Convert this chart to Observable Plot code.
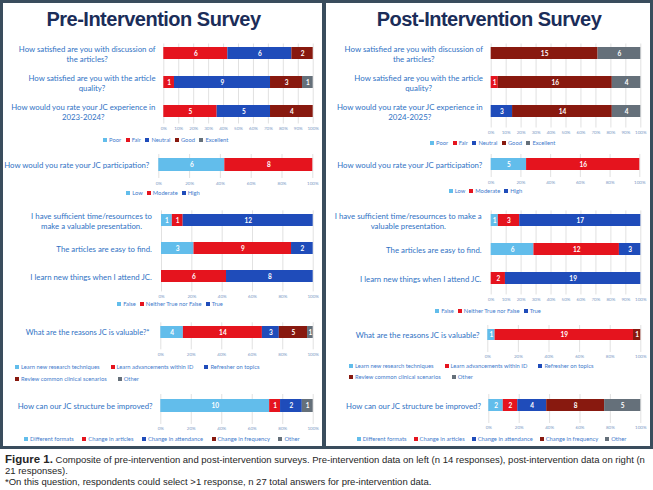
<!DOCTYPE html>
<html>
<head>
<meta charset="utf-8">
<script src="https://cdn.jsdelivr.net/npm/d3@7"></script>
<script src="https://cdn.jsdelivr.net/npm/@observablehq/plot@0.6"></script>
<style>
  body { margin: 0; background: #fff; }
  #fig { position: relative; width: 653px; height: 490px; overflow: hidden; font-family: Lato, sans-serif; }
  .frame { position: absolute; left: 0; top: 0; width: 653px; height: 449px; background: #3a4d5d; }
  .panel { position: absolute; top: 3px; height: 443px; background: #fff; }
  .title { position: absolute; top: 9px; width: 320px; text-align: center; font-family: "Liberation Sans", Arial, sans-serif;
           font-weight: bold; font-size: 20px; line-height: 20px; letter-spacing: -0.5px; color: #1b2d59; white-space: nowrap; }
  .chart { position: absolute; }
  .chart svg { display: block; }
  .legend-box { position: absolute; }
  .lg-swatches { font-family: Lato, sans-serif; font-size: 5.8px; color: #3f7bcc; min-height: 0; margin: 0; display: flex; flex-wrap: wrap; align-items: center; }
  .lg-swatch { height: 8px; line-height: 8px; display: inline-flex; align-items: center; }
  .lg-swatch > svg { margin-right: 2px; }
  .caption { position: absolute; left: 5px; top: 454px; font-family: "Liberation Sans", Arial, sans-serif; font-size: 9.5px;
             line-height: 11.2px; letter-spacing: 0; color: #262626; white-space: nowrap; }
  .caption b { font-size: 11.5px; }
</style>
</head>
<body>
<div id="fig">
  <div class="frame"></div>
  <div class="panel" style="left:3px;width:319px"></div>
  <div class="panel" style="left:326px;width:324px"></div>
  <div class="title" style="left:-6.5px">Pre-Intervention Survey</div>
  <div class="title" style="left:329px">Post-Intervention Survey</div>
  <div class="caption"><b>Figure 1.</b> Composite of pre-intervention and post-intervention surveys. Pre-intervention data on left (n 14 responses), post-intervention data on right (n<br>21 responses).<br>*On this question, respondents could select &gt;1 response, n 27 total answers for pre-intervention data.</div>
</div>
<script>
// ---- answer categories ----
const ratingLevels = ["Poor", "Fair", "Neutral", "Good", "Excellent"];
const participationLevels = ["Low", "Moderate", "High"];
const truthLevels = ["False", "Neither True nor False", "True"];
const reasonLevels = ["Learn new research techniques", "Learn advancements within ID", "Refresher on topics", "Review common clinical scenarios", "Other"];
const improveLevels = ["Different formats", "Change in articles", "Change in attendance", "Change in frequency", "Other"];

// ---- questions ----
const ratingQuestionsPre = [
  "How satisfied are you with discussion of\nthe articles?",
  "How satisfied are you with the article\nquality?",
  "How would you rate your JC experience in\n2023-2024?"
];
const ratingQuestionsPost = [
  "How satisfied are you with discussion of\nthe articles?",
  "How satisfied are you with the article\nquality?",
  "How would you rate your JC experience in\n2024-2025?"
];
const participationQuestion = ["How would you rate your JC participation?"];
const truthQuestionsPre = [
  "I have sufficient time/resournces to\nmake a valuable presentation.",
  "The articles are easy to find.",
  "I learn new things when I attend JC."
];
const truthQuestionsPost = [
  "I have sufficient time/resournces to make a\nvaluable presentation.",
  "The articles are easy to find.",
  "I learn new things when I attend JC."
];
const reasonQuestionPre = ["What are the reasons JC is valuable?*"];
const reasonQuestionPost = ["What are the reasons JC is valuable?"];
const improveQuestion = ["How can our JC structure be improved?"];

// ---- response counts (one row per question, one column per answer) ----
const ratingPre = [[0, 6, 6, 2, 0], [0, 1, 9, 3, 1], [0, 5, 5, 4, 0]];
const ratingPost = [[0, 0, 0, 15, 6], [0, 1, 0, 16, 4], [0, 0, 3, 14, 4]];
const participationPre = [[6, 8, 0]];
const participationPost = [[5, 16, 0]];
const truthPre = [[1, 1, 12], [3, 9, 2], [0, 6, 8]];
const truthPost = [[1, 3, 17], [6, 12, 3], [0, 2, 19]];
const reasonPre = [[4, 14, 3, 5, 1]];
const reasonPost = [[1, 19, 0, 1, 0]];
const improvePre = [[10, 1, 2, 0, 1]];
const improvePost = [[2, 2, 4, 8, 5]];

// ---- styling ----
const PALETTE = ["#62bdeb", "#e5141e", "#1f4cba", "#88190f", "#65707a"];
const LABEL_COLOR = "#2f72c4";
const TICK_COLOR = "#7d9bc6";

// ---- layout of each block within the two panels ----
const panels = {
  pre: {left: 3, right: 322},
  post: {left: 326, right: 650}
};
const blocks = [
  {panel: "pre", questions: ratingQuestionsPre, levels: ratingLevels, values: ratingPre,
   bar: [163.3, 312.7], top: 37.5, step: 29, barH: 11.7, gridTop: 43, gridBottom: 123, tickY: 127.7, tickStep: 0.1,
   labelSize: 7.8, lineHeight: 1.28, gap: 8, legend: {center: 168, y: 140, gap: 4.5}},
  {panel: "post", questions: ratingQuestionsPost, levels: ratingLevels, values: ratingPost,
   bar: [490.7, 640.3], top: 37.5, step: 29, barH: 11.5, gridTop: 43, gridBottom: 127, tickY: 131.7, tickStep: 0.1,
   labelSize: 7.9, lineHeight: 1.25, gap: 8, legend: {center: 495, y: 142.5, gap: 4.5}},
  {panel: "pre", questions: participationQuestion, levels: participationLevels, values: participationPre,
   bar: [158.3, 312.3], top: 155, step: 20, barH: 13.3, gridTop: 154, gridBottom: 178, tickY: 183.3, tickStep: 0.2,
   labelSize: 7.8, gap: 9, legend: {center: 165, y: 193.3, gap: 4}},
  {panel: "post", questions: participationQuestion, levels: participationLevels, values: participationPost,
   bar: [490.7, 639.3], top: 154.3, step: 20, barH: 12.3, gridTop: 154, gridBottom: 177, tickY: 182.3, tickStep: 0.2,
   labelSize: 7.8, gap: 8.4, legend: {center: 487.5, y: 190.7, gap: 4}},
  {panel: "pre", questions: truthQuestionsPre, levels: truthLevels, values: truthPre,
   bar: [161, 312.7], top: 204.6, step: 28.85, barH: 12.3, gridTop: 210, gridBottom: 291, tickY: 295.7, tickStep: 0.2,
   labelSize: 7.8, lineHeight: 1.3, gap: 9.5, legend: {center: 172, y: 304, gap: 4}},
  {panel: "post", questions: truthQuestionsPost, levels: truthLevels, values: truthPost,
   bar: [490.7, 640.3], top: 204.55, step: 29.5, barH: 12, gridTop: 210, gridBottom: 294, tickY: 299, tickStep: 0.1,
   labelSize: 7.8, lineHeight: 1.3, gap: 9.5, legend: {center: 490, y: 310.7, gap: 4}},
  {panel: "pre", questions: reasonQuestionPre, levels: reasonLevels, values: reasonPre,
   bar: [160.3, 312.7], top: 321.7, step: 20, barH: 11.7, gridTop: 322, gridBottom: 349, tickY: 354, tickStep: 0.2,
   labelSize: 7.6, gap: 11, legend: {left: 15, width: 262, y: 367.3, rowGap: 11.7, gap: 11}},
  {panel: "post", questions: reasonQuestionPost, levels: reasonLevels, values: reasonPost,
   bar: [487.3, 640.3], top: 324, step: 20, barH: 11, gridTop: 325, gridBottom: 352, tickY: 356.7, tickStep: 0.2,
   labelSize: 7.8, gap: 8, legend: {left: 349, width: 256, y: 366, rowGap: 10.7, gap: 11}},
  {panel: "pre", questions: improveQuestion, levels: improveLevels, values: improvePre,
   bar: [160.3, 312.7], top: 395, step: 20, barH: 12.7, gridTop: 394, gridBottom: 424, tickY: 429, tickStep: 0.2,
   labelSize: 7.8, gap: 8, legend: {center: 166, y: 439, gap: 8.5}},
  {panel: "post", questions: improveQuestion, levels: improveLevels, values: improvePost,
   bar: [488.3, 640.3], top: 395, step: 20, barH: 12, gridTop: 394, gridBottom: 423, tickY: 427.7, tickStep: 0.2,
   labelSize: 7.8, gap: 7.6, legend: {center: 495, y: 439, gap: 7}}
];

const fig = document.getElementById("fig");
const ctx = document.createElement("canvas").getContext("2d");
function textWidth(s, size) {
  ctx.font = `${size}px Lato`;
  return ctx.measureText(s).width;
}

function drawBlock(b) {
  const panel = panels[b.panel];
  const rows = [];
  b.questions.forEach((q, i) => b.levels.forEach((lv, j) => {
    const v = b.values[i][j];
    if (v > 0) rows.push({question: q, answer: lv, count: v});
  }));
  const n = b.questions.length;
  const svgTop = Math.min(b.gridTop, b.top) - 2;
  const height = Math.ceil(b.tickY + 5 - svgTop);
  const width = panel.right - panel.left;
  const pad = 1 - b.barH / b.step;
  const yTop = b.top - svgTop;
  const ticks = d3.range(0, 1 + 1e-9, b.tickStep);
  const gridBottom = b.gridBottom - svgTop;

  // question text: block right-aligned against the bars, lines centred within it
  const labels = b.questions.map(q => {
    const w = d3.max(q.split("\n"), s => textWidth(s, b.labelSize));
    return Plot.text([q], {
      y: d => d, text: d => d, frameAnchor: "left", textAnchor: "middle",
      dx: -b.gap - w / 2, fontSize: b.labelSize, lineHeight: b.lineHeight ?? 1.2, fill: LABEL_COLOR
    });
  });

  const chart = Plot.plot({
    width, height,
    marginLeft: b.bar[0] - panel.left,
    marginRight: panel.right - b.bar[1],
    marginTop: b.gridTop - svgTop,
    marginBottom: height - gridBottom,
    style: {fontFamily: "Lato, sans-serif", background: "transparent", overflow: "visible"},
    x: {domain: [0, 1]},
    y: {domain: b.questions, range: [yTop, yTop + n * b.step], paddingInner: pad, paddingOuter: pad / 2, axis: null},
    color: {domain: b.levels, range: PALETTE},
    marks: [
      Plot.gridX(ticks, {stroke: "#d9d9d9", strokeOpacity: 1, strokeWidth: 0.8}),
      Plot.axisX(ticks, {
        tickSize: 0, tickPadding: b.tickY - b.gridBottom - 2.3, tickFormat: d3.format(".0%"),
        fontSize: 4.5, fill: TICK_COLOR, label: null
      }),
      Plot.barX(rows, Plot.stackX({x: "count", y: "question", fill: "answer", offset: "normalize", order: b.levels})),
      Plot.text(rows, Plot.stackX({
        x: "count", y: "question", z: "answer", text: "count", offset: "normalize", order: b.levels,
        fill: "white", fontSize: 6.5, fontWeight: "bold"
      })),
      ...labels
    ]
  });
  const holder = document.createElement("div");
  holder.className = "chart";
  holder.style.left = panel.left + "px";
  holder.style.top = svgTop + "px";
  holder.appendChild(chart);
  fig.appendChild(holder);

  // swatch legend for the block
  const legend = Plot.legend({
    color: {domain: b.levels, range: PALETTE},
    legend: "swatches", swatchSize: 4, className: "lg"
  });
  const L = b.legend;
  legend.querySelectorAll(".lg-swatch").forEach(s => { s.style.marginRight = L.gap + "px"; });
  const box = document.createElement("div");
  box.className = "legend-box";
  if (L.center !== undefined) {
    box.style.left = (L.center - 160) + "px";
    box.style.width = "320px";
    legend.style.justifyContent = "center";
    box.style.top = (L.y - 4) + "px";
  } else {
    box.style.left = L.left + "px";
    box.style.width = L.width + "px";
    legend.style.justifyContent = "flex-start";
    legend.querySelectorAll(".lg-swatch").forEach(s => { s.style.height = L.rowGap + "px"; });
    box.style.top = (L.y - L.rowGap / 2) + "px";
  }
  box.appendChild(legend);
  fig.appendChild(box);
}

blocks.forEach(drawBlock);
</script>
</body>
</html>
